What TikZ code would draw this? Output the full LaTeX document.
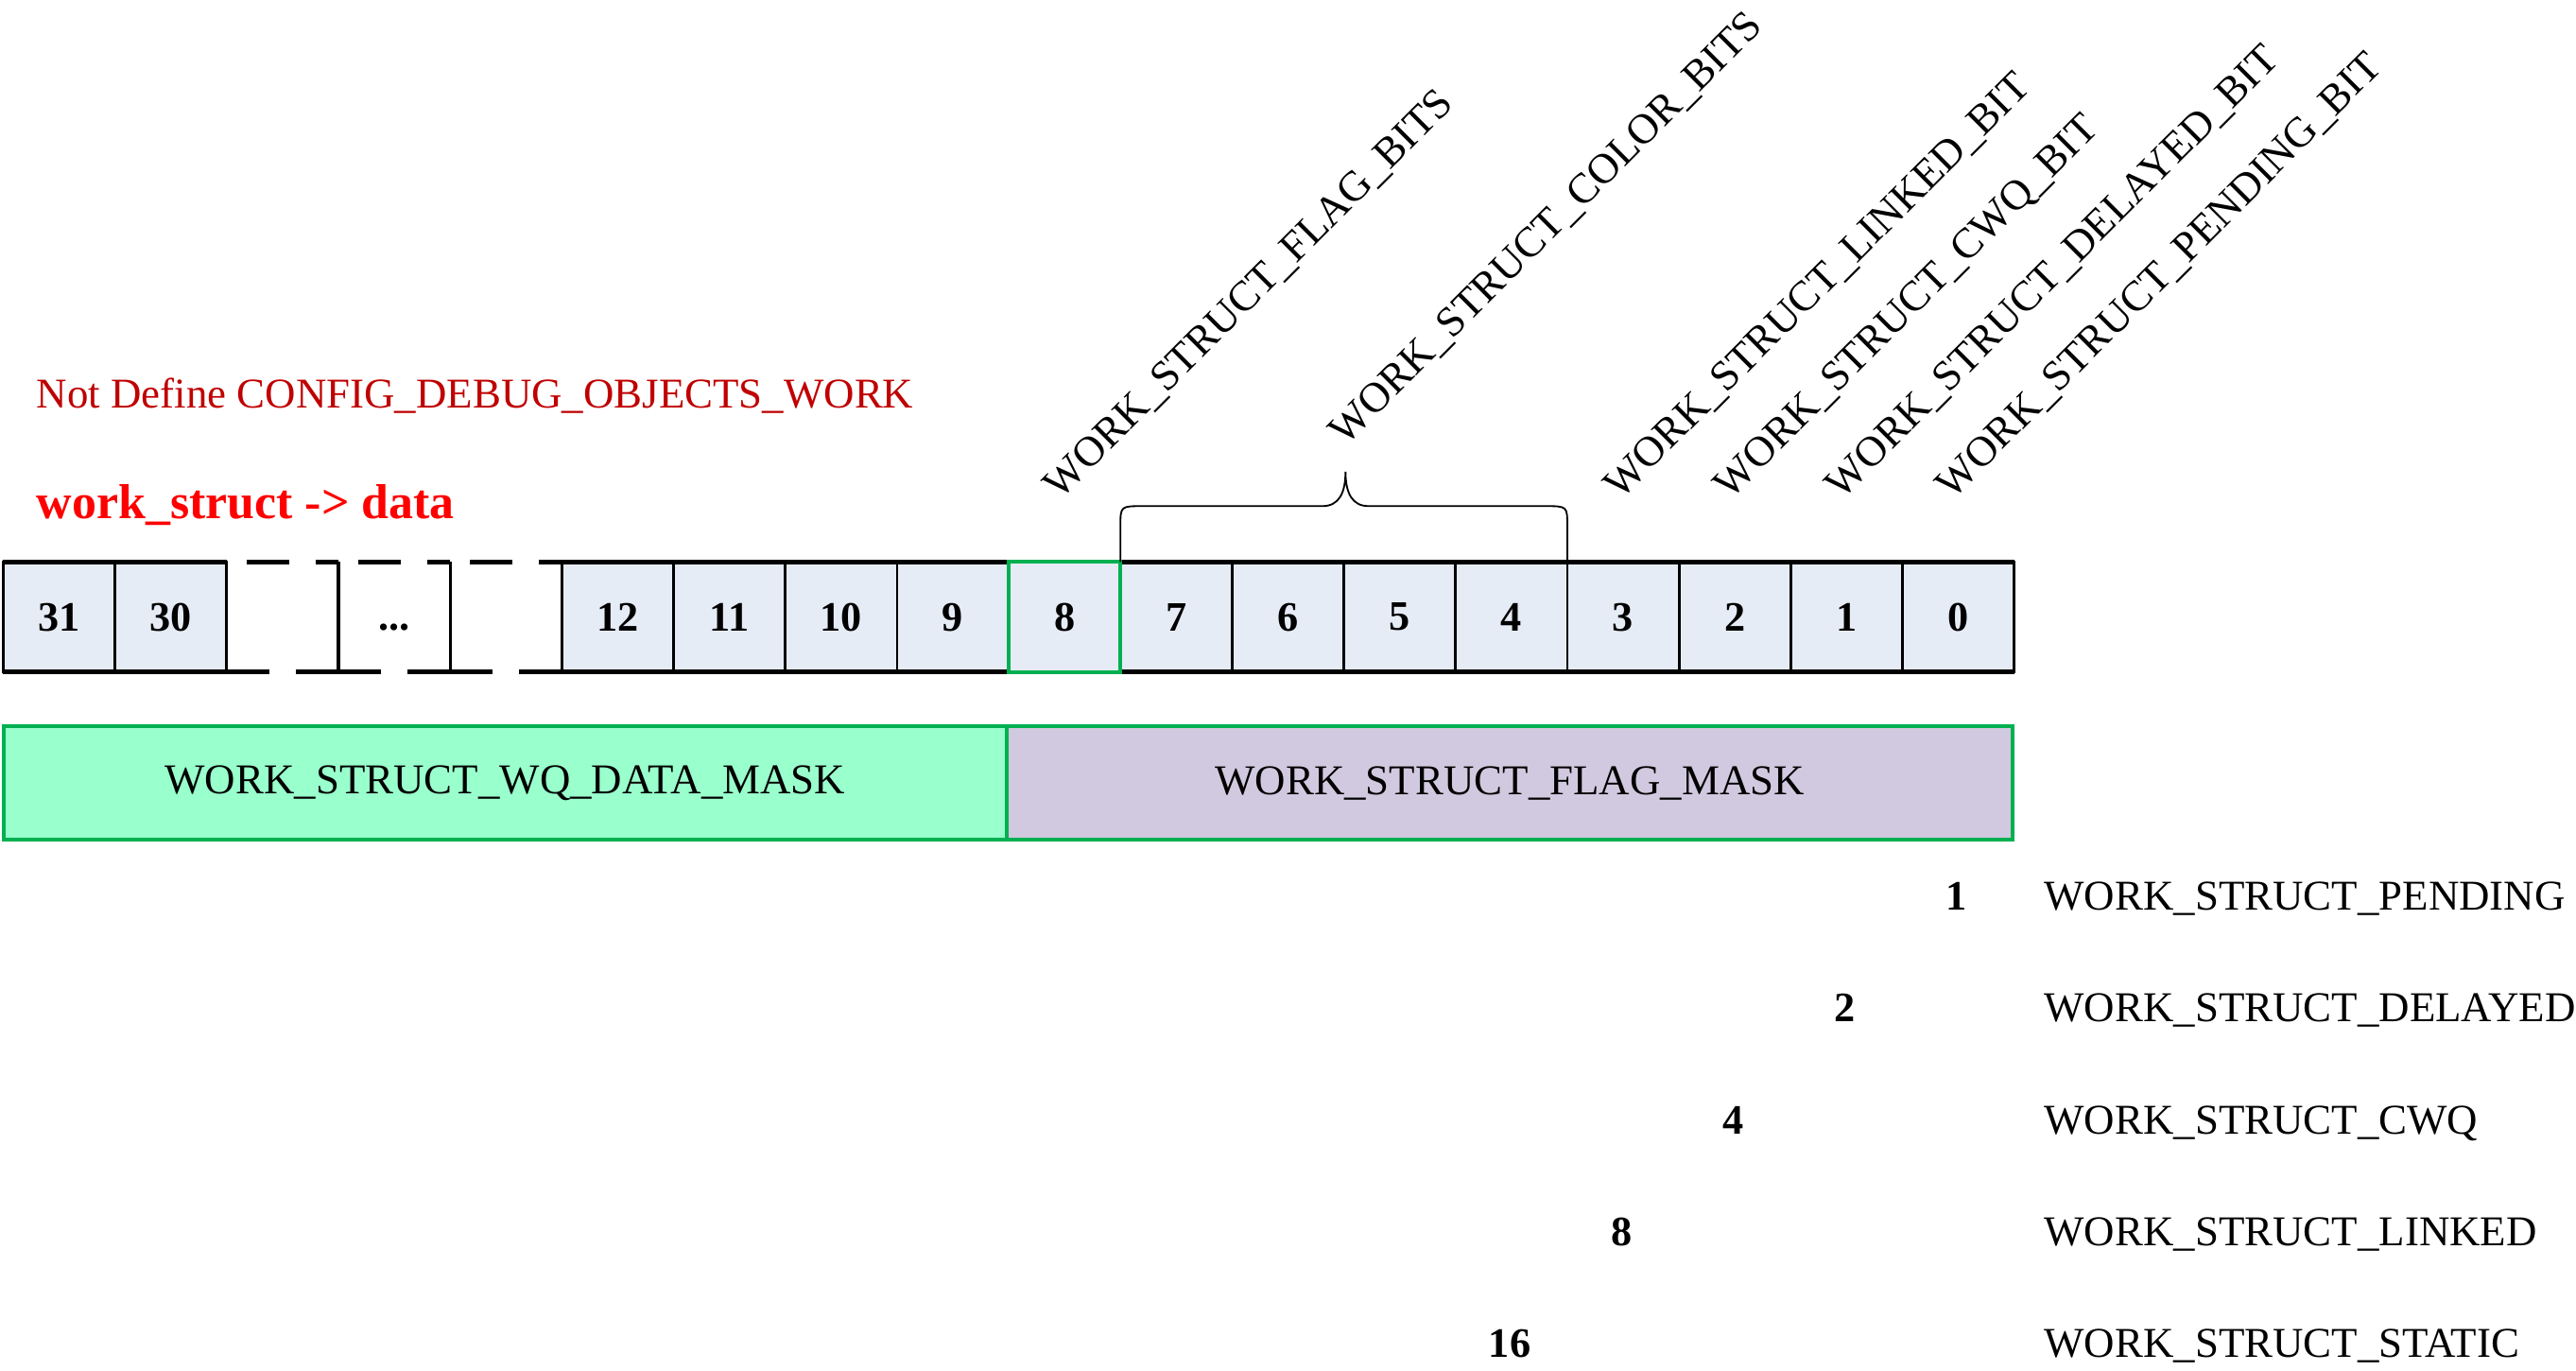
\documentclass[tikz,border=0pt]{standalone}
\usepackage{fontspec}
\setmainfont{Liberation Serif}
\definecolor{cellblue}{HTML}{E6ECF6}
\definecolor{wqgreen}{HTML}{00B050}
\definecolor{wqmint}{HTML}{99FFCC}
\definecolor{flaglilac}{HTML}{D1C9DF}
\definecolor{cfgred}{HTML}{C00000}

\begin{document}
\begin{tikzpicture}[x=0.02cm, y=-0.02cm,
  cell/.style={draw, fill=cellblue, line width=0.9pt, outer sep=0pt, inner sep=0pt, minimum width=1.36cm, minimum height=1.34cm, font=\fontsize{14.5}{17}\selectfont\bfseries},
  mask/.style={draw=wqgreen, line width=1.3pt, outer sep=0pt, inner sep=0pt, minimum height=1.38cm, font=\fontsize{14.7}{17}\selectfont},
  bitname/.style={rotate=45, anchor=base west, inner sep=0pt, font=\fontsize{14.7}{17}\selectfont},
  flagname/.style={anchor=base west, inner sep=0pt, font=\fontsize{14.7}{17}\selectfont},
  flagval/.style={anchor=base, inner sep=0pt, font=\fontsize{14.5}{17}\selectfont\bfseries},
  rowline/.style={line width=1.7pt},
  gapline/.style={line width=1.7pt, dash pattern=on 0.52cm off 0.32cm}]
\useasboundingbox (0,0) rectangle (1568,834.3);
% titles
\node[flagname, text=cfgred] (cfg) at (22,248.4) {Not Define CONFIG\_DEBUG\_OBJECTS\_WORK};
\node[flagname, text=red, font=\fontsize{17}{20}\selectfont\bfseries] (data) at (22,315.5) {work\_struct -> data};
% bit cells
\node[cell] (b31) at (36,375.5) {31};
\node[cell] (b30) at (104,375.5) {30};
\node[cell] (b12) at (376,375.5) {12};
\node[cell] (b11) at (444,375.5) {11};
\node[cell] (b10) at (512,375.5) {10};
\node[cell] (b9) at (580,375.5) {9};
\node[cell] (b7) at (716,375.5) {7};
\node[cell] (b6) at (784,375.5) {6};
\node[cell] (b5) at (852,375.5) {5};
\node[cell] (b4) at (920,375.5) {4};
\node[cell] (b3) at (988,375.5) {3};
\node[cell] (b2) at (1056,375.5) {2};
\node[cell] (b1) at (1124,375.5) {1};
\node[cell] (b0) at (1192,375.5) {0};
\draw[rowline] (b31.north west) -- (b30.north east);
\draw[rowline] (b31.south west) -- (b30.south east);
\draw[rowline] (b12.north west) -- (b0.north east);
\draw[rowline] (b12.south west) -- (b0.south east);
% skipped bits
\draw[gapline, dash phase=0.6cm] (138,342) -- (206,342);
\draw[gapline, dash phase=0.6cm] (206,342) -- (274,342);
\draw[gapline, dash phase=0.6cm] (274,342) -- (342,342);
\draw[gapline] (138,409) -- (206,409);
\draw[gapline] (206,409) -- (274,409);
\draw[gapline] (274,409) -- (342,409);
\draw[line width=1pt] (206,342) -- (206,409);
\draw[line width=1pt] (274,342) -- (274,409);
\node[flagval] (dots) at (240,383.5) {...};
\node[cell, draw=wqgreen, line width=1.3pt] (b8) at (648,375.5) {8};
% masks
\node[mask, fill=wqmint, minimum width=12.22cm] (dmask) at (307.5,476.5) {WORK\_STRUCT\_WQ\_DATA\_MASK};
\node[mask, fill=flaglilac, minimum width=12.24cm] (fmask) at (919,476.5) {WORK\_STRUCT\_FLAG\_MASK};
% color bits brace
\draw[line width=0.6pt] (b7.north west) -- (682,320) .. controls (682,308) .. (696,308) -- (805,308) .. controls (815,308) and (819,300) .. (819,287) .. controls (819,300) and (823,308) .. (833,308) -- (940,308) .. controls (954,308) .. (954,320) -- (b4.north east);
% bit names
\node[bitname] (lflag) at (645,305) {WORK\_STRUCT\_FLAG\_BITS};
\node[bitname] (lcolor) at (819,272) {WORK\_STRUCT\_COLOR\_BITS};
\node[bitname] (llinked) at (986,305) {WORK\_STRUCT\_LINKED\_BIT};
\node[bitname] (lcwq) at (1053,305) {WORK\_STRUCT\_CWQ\_BIT};
\node[bitname] (ldelayed) at (1121,305) {WORK\_STRUCT\_DELAYED\_BIT};
\node[bitname] (lpending) at (1188,305) {WORK\_STRUCT\_PENDING\_BIT};
% flag values
\node[flagval] (v1) at (1191,554) {1};
\node[flagval] (v2) at (1123,622) {2};
\node[flagval] (v4) at (1055,690) {4};
\node[flagval] (v8) at (987,758) {8};
\node[flagval] (v16) at (919,826) {16};
\node[flagname] (fpending) at (1244,554) {WORK\_STRUCT\_PENDING};
\node[flagname] (fdelayed) at (1244,622) {WORK\_STRUCT\_DELAYED};
\node[flagname] (fcwq) at (1244,690) {WORK\_STRUCT\_CWQ};
\node[flagname] (flinked) at (1244,758) {WORK\_STRUCT\_LINKED};
\node[flagname] (fstatic) at (1244,826) {WORK\_STRUCT\_STATIC};
\end{tikzpicture}
\end{document}
